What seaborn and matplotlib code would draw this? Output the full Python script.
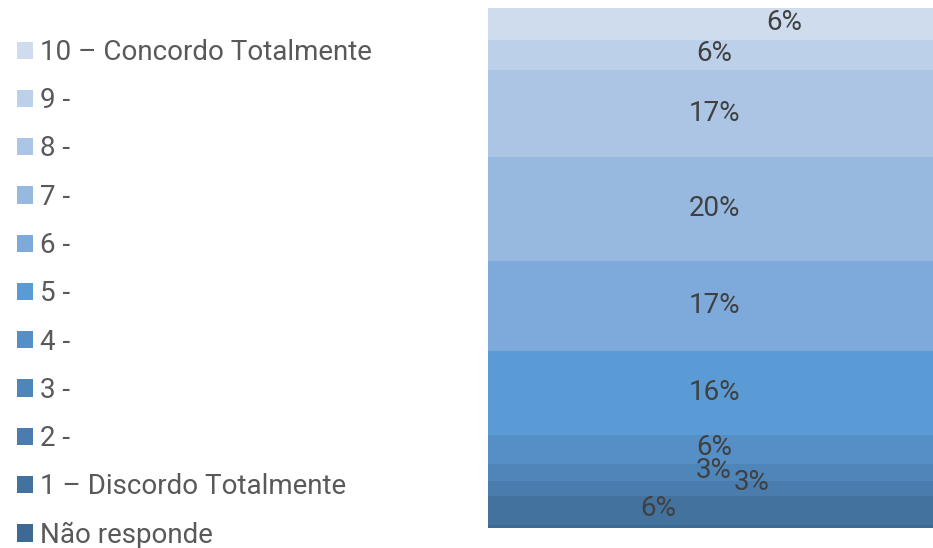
import matplotlib
matplotlib.use("Agg")
import matplotlib.pyplot as plt
from matplotlib.patches import Patch
import seaborn as sns
import pandas as pd
import numpy as np

# Answer categories, bottom of the stack first
categories = [
    "Não responde",
    "1 – Discordo Totalmente",
    "2 -",
    "3 -",
    "4 -",
    "5 -",
    "6 -",
    "7 -",
    "8 -",
    "9 -",
    "10 – Concordo Totalmente",
]
shares = [0.6, 5.6, 2.9, 3.2, 5.6, 16.2, 17.3, 20.1, 16.6, 5.8, 6.2]
show_label = [False, True, True, True, True, True, True, True, True, True, True]
colors = [
    "#3D6A95", "#43729F", "#4A7DAD", "#4F86BA", "#568FC6", "#5B9BD5",
    "#7DAADB", "#98B9DF", "#ADC5E5", "#BCD1E9", "#CFDCEE",
]

sns.set_theme(style="white")
plt.rcParams["font.family"] = ["Roboto", "DejaVu Sans"]

W, H = 933, 548
fig = plt.figure(figsize=(W / 100, H / 100), dpi=100)
ax = fig.add_axes([488 / W, 20 / H, 445 / W, 520 / H])

cum = np.cumsum(shares)
df = pd.DataFrame({"cat": categories, "share": shares, "top": cum, "color": colors})

# Single stacked column: draw cumulative totals from the tallest down
for i in range(len(df) - 1, -1, -1):
    sns.barplot(x=[0], y=[df["top"][i]], color=df["color"][i], width=1.0,
                saturation=1, ax=ax, native_scale=True, linewidth=0)

ax.set_xlim(-0.5, 0.4845)
ax.set_ylim(0, cum[-1])
ax.axis("off")

# Value labels, nudged sideways where the thin segments crowd together
label_dx = [0, -56, 38, 0, 0, 0, 0, 0, 0, 0, 70]
label_dy = [0, 2, 6, 2, 2, 0, 0, 0, 0, 2, 2]
bottoms = cum - np.array(shares)
for i, (v, b) in enumerate(zip(shares, bottoms)):
    if not show_label[i]:
        continue
    ax.annotate(f"{v:.0f}%", xy=(0, b + v / 2), xytext=(label_dx[i], label_dy[i]),
                textcoords="offset pixels", ha="center", va="center",
                fontsize=20, color="#404040")

handles = [Patch(facecolor=c, edgecolor="none") for c in colors[::-1]]
fig.legend(handles, categories[::-1], loc="upper left",
           bbox_to_anchor=(17 / W, 1 - 39 / H), frameon=False,
           labelcolor="#595959", prop={"size": 20},
           handlelength=0.58, handleheight=0.58, handletextpad=0.25,
           labelspacing=0.765, borderaxespad=0, borderpad=0)

fig.savefig("out.png", dpi=100)
